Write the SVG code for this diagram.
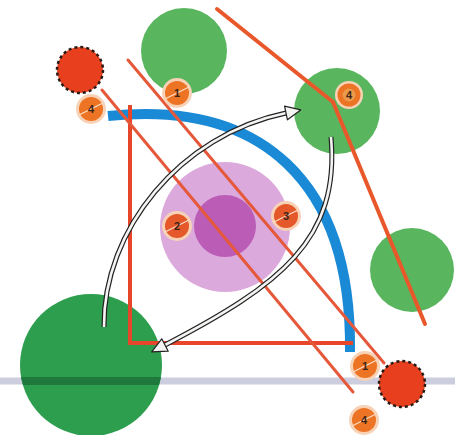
<svg xmlns="http://www.w3.org/2000/svg" width="455" height="435" viewBox="0 0 455 435">
<style>
.green{fill:#5ab65e}
.dash{fill:#e8401e;stroke:#2a1a14;stroke-width:2.5;stroke-dasharray:3 3}
.rl{stroke:#e5583a;stroke-width:3;fill:none;stroke-linecap:round}
.halo{fill:#f8d2b6}
.disc{fill:#ec7424}
.disc2{fill:#e5582a}
.stripe{stroke:#fbe0cc;stroke-width:1.2}
.num{font-family:"Liberation Sans",Arial,sans-serif;font-size:11px;font-weight:bold;fill:#3a2418;text-anchor:middle}
.shaftB{fill:none;stroke:#222;stroke-width:5}
.shaftW{fill:none;stroke:#f4f4f2;stroke-width:2.6}
</style>
<defs>
<marker id="ah" markerUnits="userSpaceOnUse" markerWidth="20" markerHeight="20" refX="1" refY="8" orient="auto">
<path d="M1,1 L16,8 L1,15 Z" fill="#f4f4f2" stroke="#222" stroke-width="1.2" stroke-linejoin="round"/>
</marker>
<clipPath id="bigc"><circle cx="91" cy="365" r="71"/></clipPath>
</defs>

<rect width="455" height="435" fill="#ffffff"/>

<g id="ground-line">
<line x1="0" y1="381" x2="455" y2="381" stroke="#cdcde0" stroke-width="7"/>
</g>

<g id="circle-top" ><circle class="green" cx="184" cy="51" r="43"/></g>
<g id="circle-topright"><circle class="green" cx="337" cy="111" r="43"/></g>
<g id="circle-right"><circle class="green" cx="412" cy="270" r="42"/></g>
<g id="circle-big">
<circle cx="91" cy="365" r="71" fill="#2d9e4e"/>
<rect x="15" y="377" width="150" height="8" fill="#20793c" clip-path="url(#bigc)"/>
</g>
<g id="pink-zone">
<circle cx="225" cy="227" r="65" fill="#dba9dc"/>
<circle cx="225" cy="226" r="31" fill="#bb5cb6"/>
</g>
<g id="dashed-top"><circle class="dash" cx="80" cy="70" r="23"/></g>
<g id="dashed-bottom"><circle class="dash" cx="402" cy="384" r="23"/></g>

<g id="blue-arc">
<path d="M108,116 C260,100 352,180 350,352" fill="none" stroke="#1a8ad6" stroke-width="10"/>
</g>

<g id="red-lines">
<path d="M130,105 L130,343 L353,343" fill="none" stroke="#e8462a" stroke-width="4"/>
<line class="rl" x1="102" y1="90" x2="353" y2="392"/>
<line class="rl" x1="128" y1="60" x2="384" y2="363"/>
<path d="M217,9 L333,102 L425,324" fill="none" stroke="#e8582a" stroke-width="4" stroke-linecap="round" stroke-linejoin="round"/>
</g>

<g id="connectors">
<path class="shaftB" d="M104,327 C103,230 180,135 286,113"/>
<path class="shaftW" d="M104,327 C103,230 180,135 286,113" marker-end="url(#ah)"/>
<path class="shaftB" d="M331,137 C340,240 280,285 165,345"/>
<path class="shaftW" d="M331,137 C340,240 280,285 165,345" marker-end="url(#ah)"/>
</g>

<g id="badge-4a"><circle class="halo" cx="91" cy="109" r="15"/><circle class="disc" cx="91" cy="109" r="12"/><line class="stripe" x1="79" y1="115" x2="103" y2="103"/><text class="num" x="91" y="113">4</text></g>
<g id="badge-1a"><circle class="halo" cx="177" cy="93" r="15"/><circle class="disc" cx="177" cy="93" r="12"/><line class="stripe" x1="165" y1="99" x2="189" y2="87"/><text class="num" x="177" y="97">1</text></g>
<g id="badge-4b"><circle class="halo" cx="349" cy="95" r="14"/><circle class="disc" cx="349" cy="95" r="11.5"/><circle cx="349" cy="95" r="6.5" fill="#e99a4a"/><text class="num" x="349" y="99">4</text></g>
<g id="badge-2"><circle class="halo" cx="177" cy="226" r="15"/><circle class="disc2" cx="177" cy="226" r="12"/><line class="stripe" x1="165" y1="232" x2="189" y2="220"/><text class="num" x="177" y="230">2</text></g>
<g id="badge-3"><circle class="halo" cx="286" cy="216" r="15"/><circle class="disc2" cx="286" cy="216" r="12"/><line class="stripe" x1="274" y1="222" x2="298" y2="210"/><text class="num" x="286" y="220">3</text></g>
<g id="badge-1b"><circle class="halo" cx="365" cy="366" r="15"/><circle class="disc" cx="365" cy="366" r="12"/><line class="stripe" x1="353" y1="372" x2="377" y2="360"/><text class="num" x="365" y="370">1</text></g>
<g id="badge-4c"><circle class="halo" cx="364" cy="420" r="15"/><circle class="disc" cx="364" cy="420" r="12"/><line class="stripe" x1="352" y1="426" x2="376" y2="414"/><text class="num" x="364" y="424">4</text></g>
</svg>
